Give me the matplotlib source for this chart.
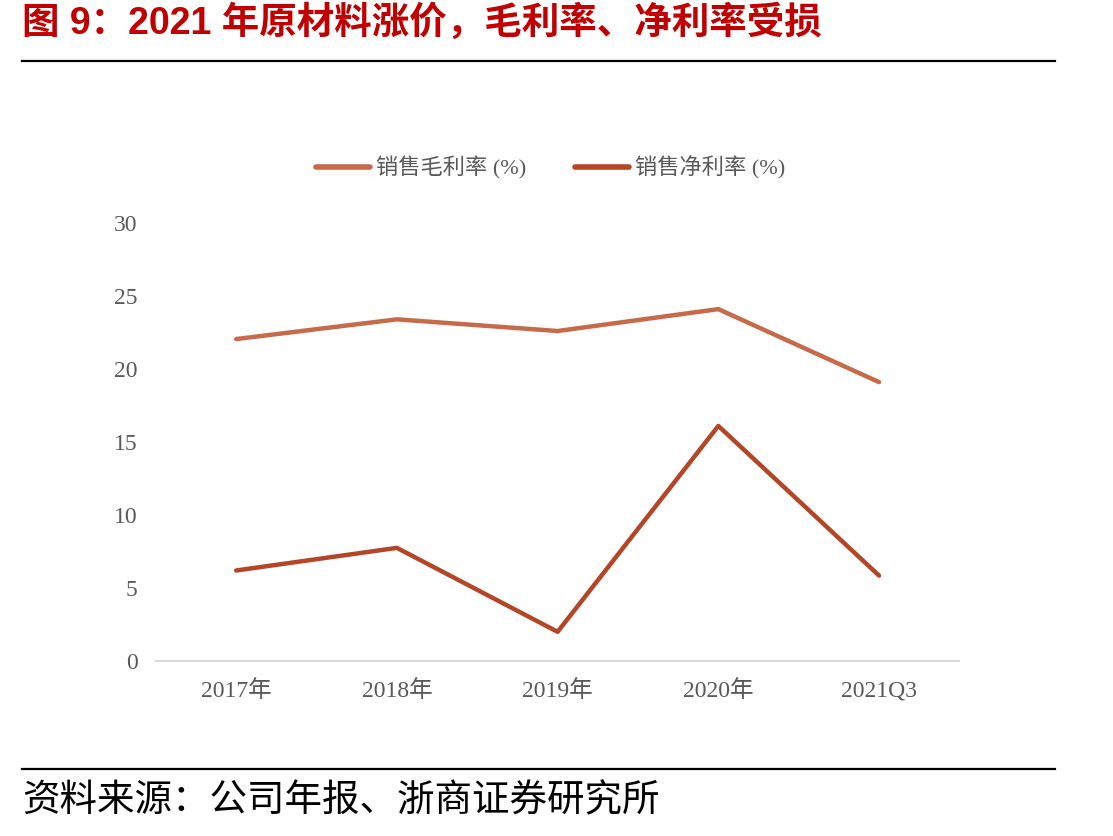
import matplotlib.pyplot as plt
from matplotlib.lines import Line2D

plt.rcParams['font.family'] = ['Liberation Serif', 'Noto Sans CJK SC']

# data
years = ['2017年', '2018年', '2019年', '2020年', '2021Q3']
gross_margin = [22.05, 23.4, 22.6, 24.1, 19.1]
net_margin = [6.2, 7.75, 2.0, 16.1, 5.85]
y_ticks = [0, 5, 10, 15, 20, 25, 30]

gross_color = '#C66A4A'
net_color = '#B44628'
tick_color = '#595959'

fig = plt.figure(figsize=(11.13, 8.36), dpi=100)
ax = fig.add_axes([0.140, 0.2093, 0.722, 0.524])

x = range(len(years))
ax.plot(x, gross_margin, color=gross_color, lw=3.2, solid_capstyle='round', label='销售毛利率 (%)')
ax.plot(x, net_margin, color=net_color, lw=3.2, solid_capstyle='round', label='销售净利率 (%)')

ax.set_xlim(-0.5, len(years) - 0.5)
ax.set_ylim(0, 30)
ax.set_yticks(y_ticks)
ax.set_xticks(list(x))
ax.set_xticklabels(years)
ax.tick_params(axis='both', length=0, labelsize=17, colors=tick_color)
ax.tick_params(axis='y', pad=13)
ax.tick_params(axis='x', pad=14)

for side in ['top', 'right', 'left']:
    ax.spines[side].set_visible(False)
ax.spines['bottom'].set_color('#D9D9D9')
ax.spines['bottom'].set_linewidth(1.5)

# legend above the plot
handles = [Line2D([], [], color=gross_color, lw=4, solid_capstyle='round'),
           Line2D([], [], color=net_color, lw=4, solid_capstyle='round')]
fig.legend(handles, ['销售毛利率 (%)', '销售净利率 (%)'], loc='center',
           bbox_to_anchor=(0.495, 0.799), ncol=2, frameon=False, fontsize=16,
           handlelength=2.4, handletextpad=0.3, columnspacing=2.2,
           labelcolor=tick_color)

# title, rules, source
fig.text(0.02, 0.972, '图 9：2021 年原材料涨价，毛利率、净利率受损', color='#C00000',
         fontsize=27, fontweight='bold', va='center', ha='left',
         family=['Liberation Sans', 'Noto Sans CJK SC'])
fig.add_artist(Line2D([0.02, 0.948], [1 - 61 / 836, 1 - 61 / 836], color='black', lw=1.6))
fig.add_artist(Line2D([0.02, 0.948], [1 - 769 / 836, 1 - 769 / 836], color='black', lw=1.6))
fig.text(0.02, 1 - 801 / 836, '资料来源：公司年报、浙商证券研究所', color='black',
         fontsize=27, va='center', ha='left', family=['Noto Sans CJK SC'])

fig.savefig('out.png', dpi=100)
